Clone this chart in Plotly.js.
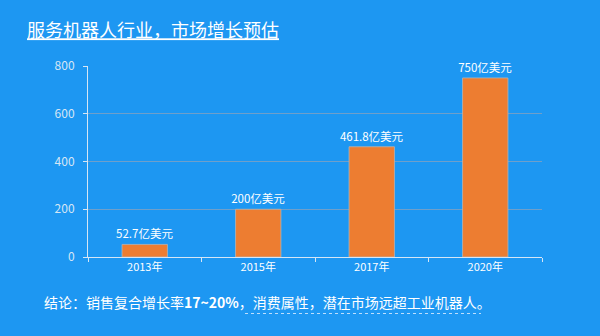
<!DOCTYPE html>
<html>
<head>
<meta charset="utf-8">
<script src="https://cdn.plot.ly/plotly-3.0.1.min.js"></script>
<style>html,body{margin:0;padding:0;background:#1d97f2;}#chart{width:600px;height:336px;}</style>
</head>
<body>
<div id="chart"></div>
<script>
const categories = ['2013年', '2015年', '2017年', '2020年'];
const values = [52.7, 200, 461.8, 750];
const labels = ['52.7亿美元', '200亿美元', '461.8亿美元', '750亿美元'];
const yTicks = [0, 200, 400, 600, 800];

const FONT = '"Noto Sans CJK SC", "Noto Sans", sans-serif';
const BG = '#1d97f2';
const LIGHT = '#d6e6f5';

const trace = {
  type: 'bar',
  x: categories,
  y: values,
  text: labels,
  textposition: 'outside',
  constraintext: 'none',
  cliponaxis: false,
  textfont: {family: FONT, size: 11.5, color: '#ffffff'},
  marker: {color: '#ed7d31', line: {color: 'rgba(180,180,180,0.8)', width: 1}},
  hoverinfo: 'none'
};

const layout = {
  width: 600, height: 336,
  paper_bgcolor: BG, plot_bgcolor: BG,
  margin: {l: 88, r: 58, t: 66, b: 79},
  bargap: 0.6,
  showlegend: false,
  font: {family: FONT, color: LIGHT, size: 11},
  title: {
    text: '服务机器人行业，市场增长预估',
    x: 27/600, xanchor: 'left', xref: 'container',
    y: 1 - 31/336, yanchor: 'middle', yref: 'container',
    font: {family: FONT, size: 18, color: '#ffffff', lineposition: 'under'}
  },
  xaxis: {
    type: 'category',
    showline: true, linecolor: LIGHT, linewidth: 1,
    ticks: 'outside', tickson: 'boundaries', ticklen: 4, tickcolor: LIGHT,
    tickfont: {family: FONT, size: 11, color: '#ffffff'},
    showgrid: false, zeroline: false
  },
  yaxis: {
    range: [0, 800], tickvals: yTicks, ticktext: yTicks.map(String),
    showline: true, linecolor: LIGHT, linewidth: 1,
    ticks: 'outside', ticklen: 4, tickcolor: LIGHT,
    tickfont: {family: FONT, size: 12, color: LIGHT},
    ticklabelstandoff: 6,
    showgrid: true, gridcolor: '#6f9fca', gridwidth: 1,
    zeroline: false
  },
  annotations: [{
    xref: 'paper', yref: 'paper',
    x: (42 - 88) / 454, y: -(302 - 257) / 191,
    xanchor: 'left', yanchor: 'middle', showarrow: false,
    text: '结论：销售复合增长率<b>17~20%</b>，消费属性，潜在市场远超工业机器人。',
    font: {family: FONT, size: 14, color: '#ffffff'}
  }],
  shapes: [{
    type: 'line', xref: 'paper', yref: 'paper',
    x0: (245 - 88) / 454, x1: (481 - 88) / 454,
    y0: -(313.5 - 257) / 191, y1: -(313.5 - 257) / 191,
    line: {color: 'rgba(230,240,255,0.8)', width: 1, dash: 'dot'}
  }]
};

Plotly.newPlot('chart', [trace], layout, {staticPlot: true, displayModeBar: false});
</script>
</body>
</html>
